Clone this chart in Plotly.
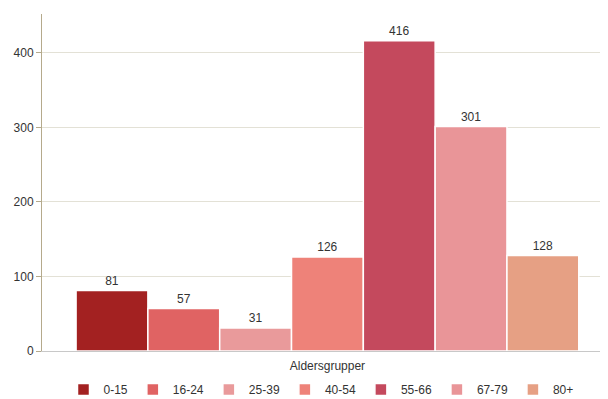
import plotly.graph_objects as go

category = ["Aldersgrupper"]
groups = ["0-15", "16-24", "25-39", "40-54", "55-66", "67-79", "80+"]
values = [81, 57, 31, 126, 416, 301, 128]
colors = ["#A32121", "#E06363", "#E99A9B", "#EE8279", "#C4495D", "#E99598", "#E6A084"]

fig = go.Figure()
for g, v, c in zip(groups, values, colors):
    fig.add_trace(go.Bar(
        x=category, y=[v], name=g,
        marker=dict(color=c, line=dict(color="white", width=1.5)),
        text=[str(v)], textposition="outside", cliponaxis=False,
        textfont=dict(color="#333333", size=12),
    ))

fig.update_layout(
    width=608, height=399,
    margin=dict(l=42, r=8, t=14, b=48),
    paper_bgcolor="white", plot_bgcolor="white",
    font=dict(family="Liberation Sans, Arial, sans-serif", size=12, color="#333333"),
    barmode="group", bargap=0.1, bargroupgap=0,
    showlegend=True,
    legend=dict(orientation="h", x=0.5, xanchor="center",
                y=0.06, yanchor="top", yref="container",
                bgcolor="rgba(0,0,0,0)",
                font=dict(size=12), itemwidth=30, tracegroupgap=0),
)
fig.update_yaxes(range=[0, 452], tickvals=[0, 100, 200, 300, 400],
                 showgrid=True, gridcolor="#E3E1D6", gridwidth=1,
                 showline=True, linecolor="#B5AA8C", linewidth=1,
                 ticks="outside", ticklen=5, tickcolor="#B5AA8C",
                 zeroline=False, automargin=False, tickfont=dict(size=12, color="#333333"))
fig.update_xaxes(range=[-0.511, 0.488], showline=True, linecolor="#C8C8C8", linewidth=1,
                 ticks="", ticklabelstandoff=4, automargin=False,
                 tickfont=dict(size=12, color="#333333"))

fig.write_html("out.html")
